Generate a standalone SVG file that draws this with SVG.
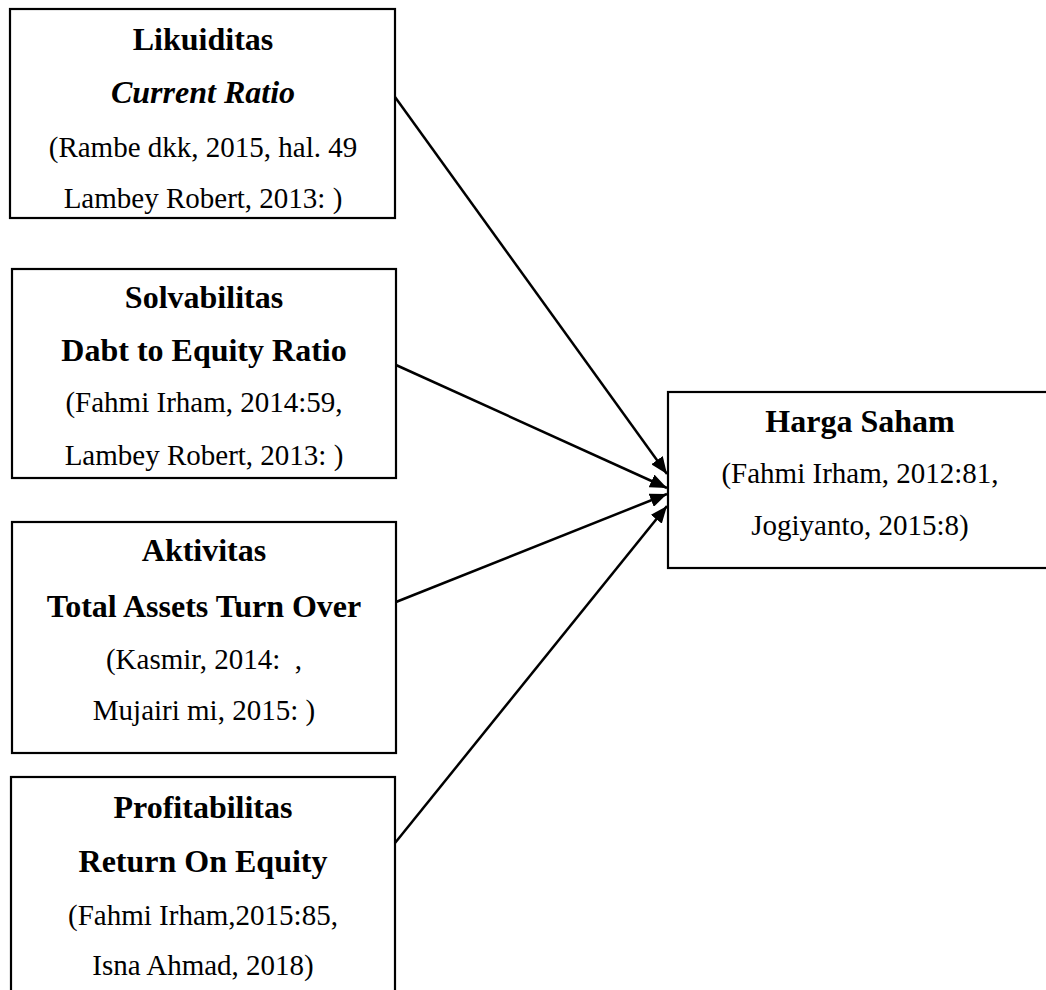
<svg xmlns="http://www.w3.org/2000/svg" width="1046" height="990" viewBox="0 0 1046 990">
<style>
.box{fill:#fff;stroke:#000;stroke-width:2.2}
.t{font-family:"Liberation Serif","Times New Roman",serif;text-anchor:middle;fill:#000}
.b{font-size:32px;font-weight:bold}
.bi{font-size:32px;font-weight:bold;font-style:italic}
.r{font-size:29px}
.c{stroke:#000;stroke-width:2.5;fill:none;marker-end:url(#ah)}
</style>
<defs>
<marker id="ah" markerUnits="userSpaceOnUse" markerWidth="18" markerHeight="14" refX="17" refY="7" orient="auto">
<path d="M0,0 L17,7 L0,14 Z" fill="#000"/>
</marker>
</defs>
<rect width="1046" height="990" fill="#fff"/>
<g id="likuiditas">
<rect class="box" x="10" y="9" width="385" height="209"/>
<text class="t b" x="203" y="50">Likuiditas</text>
<text class="t bi" x="203" y="103">Current Ratio</text>
<text class="t r" x="203" y="157">(Rambe dkk, 2015, hal. 49</text>
<text class="t r" x="203" y="208">Lambey Robert, 2013: )</text>
</g>
<g id="solvabilitas">
<rect class="box" x="12" y="269" width="384" height="209"/>
<text class="t b" x="204" y="308">Solvabilitas</text>
<text class="t b" x="204" y="361">Dabt to Equity Ratio</text>
<text class="t r" x="204" y="412">(Fahmi Irham, 2014:59,</text>
<text class="t r" x="204" y="465">Lambey Robert, 2013: )</text>
</g>
<g id="aktivitas">
<rect class="box" x="12" y="522" width="384" height="231"/>
<text class="t b" x="204" y="561">Aktivitas</text>
<text class="t b" x="204" y="617">Total Assets Turn Over</text>
<text class="t r" x="204" y="669" xml:space="preserve">(Kasmir, 2014:  ,</text>
<text class="t r" x="204" y="720">Mujairi mi, 2015: )</text>
</g>
<g id="profitabilitas">
<rect class="box" x="11" y="777" width="384" height="240"/>
<text class="t b" x="203" y="818">Profitabilitas</text>
<text class="t b" x="203" y="872">Return On Equity</text>
<text class="t r" x="203" y="925">(Fahmi Irham,2015:85,</text>
<text class="t r" x="203" y="975">Isna Ahmad, 2018)</text>
</g>
<g id="harga-saham">
<rect class="box" x="668" y="392" width="384" height="176"/>
<text class="t b" x="860" y="432">Harga Saham</text>
<text class="t r" x="860" y="483">(Fahmi Irham, 2012:81,</text>
<text class="t r" x="860" y="535">Jogiyanto, 2015:8)</text>
</g>
<g id="connectors">
<line class="c" x1="395" y1="97" x2="667" y2="474"/>
<line class="c" x1="396" y1="365" x2="667" y2="488"/>
<line class="c" x1="396" y1="602" x2="667" y2="494"/>
<line class="c" x1="395" y1="843" x2="667" y2="506"/>
</g>
</svg>
